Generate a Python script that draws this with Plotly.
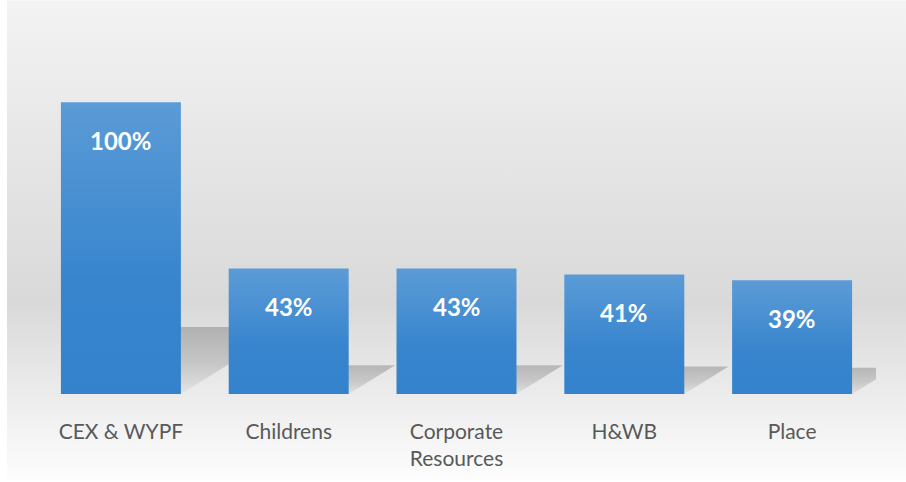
import base64
import plotly.graph_objects as go

# ─── Datos ───────────────────────────────────────────────
categorias = ["CEX & WYPF", "Childrens", "Corporate<br>Resources", "H&WB", "Place"]
valores = [1.00, 0.43, 0.43, 0.41, 0.39]
etiquetas = ["100%", "43%", "43%", "41%", "39%"]

# ─── Estilo / geometría ─────────────────────────────────
W, H = 906, 482
ML, MR, MT, MB = 37, 30, 44, 86
PW, PH = W - ML - MR, H - MT - MB
BAR_W = 0.715
SOMBRA_ALTO = 0.23      # fracción del alto de la barra
SOMBRA_DESP = 0.643     # desplazamiento horizontal (unidades de categoría por unidad de valor)

# fondo degradado vertical (svg embebido)
svg = (
    f'<svg xmlns="http://www.w3.org/2000/svg" width="{W}" height="{H}" preserveAspectRatio="none">'
    '<defs><linearGradient id="g" x1="0" y1="0" x2="0" y2="1">'
    '<stop offset="0" stop-color="#f3f3f3"/>'
    '<stop offset="0.63" stop-color="#d9d9d9"/>'
    '<stop offset="1" stop-color="#fdfdfd"/>'
    '</linearGradient></defs>'
    f'<rect width="{W}" height="{H}" fill="url(#g)"/></svg>'
)
fondo = "data:image/svg+xml;base64," + base64.b64encode(svg.encode()).decode()

fig = go.Figure()

# sombras (primero, para quedar detrás de las barras)
for i, v in enumerate(valores):
    x0, x1 = i - BAR_W / 2, i + BAR_W / 2
    s = v * SOMBRA_ALTO
    d = v * SOMBRA_DESP
    fig.add_trace(go.Scatter(
        x=[x0, x1, x1 + d, x0 + d, x0], y=[0, 0, s, s, 0],
        mode="lines", line=dict(width=0), fill="toself",
        fillgradient=dict(
            type="vertical", start=0, stop=s,
            colorscale=[[0, "rgba(0,0,0,0.03)"], [0.5, "rgba(0,0,0,0.14)"], [1, "rgba(0,0,0,0.2)"]],
        ),
        hoverinfo="skip", showlegend=False,
    ))

# barras con degradado
for i, v in enumerate(valores):
    x0, x1 = i - BAR_W / 2, i + BAR_W / 2
    fig.add_trace(go.Scatter(
        x=[x0, x1, x1, x0, x0], y=[0, 0, v, v, 0],
        mode="lines", line=dict(width=0), fill="toself",
        fillgradient=dict(
            type="vertical", start=0, stop=v,
            colorscale=[[0, "#3482cc"], [0.4, "#3885ce"], [1, "#5b9bd6"]],
        ),
        name=categorias[i].replace("<br>", " "), showlegend=False,
        hovertemplate=f"{etiquetas[i]}<extra></extra>",
    ))

# etiquetas de valor
for i, v in enumerate(valores):
    fig.add_annotation(
        x=i, y=v, yshift=-38, text=f"<b>{etiquetas[i]}</b>", showarrow=False,
        font=dict(family="Lato", size=24, color="#FFFFFF"), yanchor="middle",
    )

fig.add_layout_image(
    source=fondo, xref="paper", yref="paper",
    x=(7 - ML) / PW, y=1 + MT / PH, sizex=(W - 7) / PW, sizey=H / PH,
    xanchor="left", yanchor="top", sizing="stretch", layer="below",
)

fig.update_layout(
    width=W, height=H,
    margin=dict(l=ML, r=MR, t=MT, b=MB),
    paper_bgcolor="#FFFFFF",
    plot_bgcolor="rgba(0,0,0,0)",
    showlegend=False,
    xaxis=dict(
        range=[-0.5, len(valores) - 0.5], tickvals=list(range(len(categorias))),
        ticktext=categorias, showgrid=False, zeroline=False, showline=False,
        ticks="", ticklabelstandoff=23,
        tickfont=dict(family="Lato", size=21, color="#595959"),
        fixedrange=True,
    ),
    yaxis=dict(range=[0, 1.2], showgrid=False, zeroline=False, showticklabels=False, fixedrange=True),
)

# sin margen del body para que el gráfico ocupe toda la ventana
fig.write_html(
    "out.html",
    config={"displayModeBar": False},
    post_script="document.body.style.margin='0';",
)
